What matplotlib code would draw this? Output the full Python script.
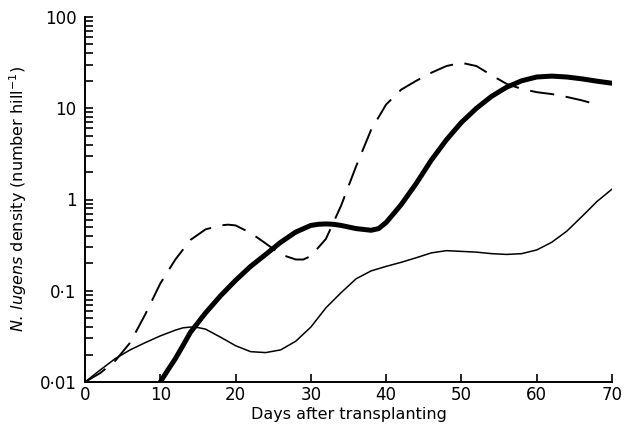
import matplotlib
matplotlib.use("Agg")
import matplotlib.pyplot as plt
from matplotlib.ticker import LogLocator, FixedLocator, FixedFormatter, NullFormatter

# Thin solid curve
thin_days = [0, 2, 4, 6, 8, 10, 12, 13, 14, 15, 16, 18, 20, 22, 24, 26, 28, 30, 32, 34, 36, 38,
             40, 42, 44, 46, 48, 50, 52, 54, 56, 58, 60, 62, 64, 66, 68, 70]
thin_vals = [0.010, 0.0135, 0.018, 0.0225, 0.027, 0.032, 0.037, 0.0392, 0.040, 0.0395, 0.038, 0.031,
             0.025, 0.0215, 0.021, 0.0225, 0.028, 0.040, 0.065, 0.095, 0.135, 0.165,
             0.185, 0.205, 0.23, 0.26, 0.275, 0.27, 0.265, 0.255, 0.25, 0.255,
             0.28, 0.34, 0.45, 0.65, 0.95, 1.3]

# Thick solid curve
thick_days = [10, 11, 12, 13, 14, 16, 18, 20, 22, 24, 26, 28, 30, 31, 32, 33, 34, 36, 38, 39, 40,
              41, 42, 44, 46, 48, 50, 52, 54, 56, 58, 60, 62, 64, 66, 68, 70]
thick_vals = [0.010, 0.0135, 0.018, 0.025, 0.035, 0.057, 0.088, 0.13, 0.185, 0.25, 0.34,
              0.44, 0.52, 0.535, 0.54, 0.535, 0.52, 0.48, 0.46, 0.48, 0.56, 0.70, 0.88, 1.5, 2.7, 4.5,
              7.0, 10.0, 13.5, 17.0, 20.0, 22.0, 22.5, 22.0, 21.0, 19.8, 18.8]

# Dashed curve
dash_days = [0, 2, 4, 6, 8, 10, 12, 14, 16, 18, 19, 20, 22, 24, 26, 28, 29, 30, 32, 34, 36, 38,
             40, 42, 44, 46, 48, 50, 52, 54, 56, 58, 60, 62, 64, 66, 68]
dash_vals = [0.010, 0.0125, 0.017, 0.027, 0.055, 0.12, 0.22, 0.36, 0.47, 0.52, 0.53, 0.52,
             0.43, 0.33, 0.25, 0.22, 0.22, 0.24, 0.37, 0.85, 2.3, 5.8, 11.0, 16.0, 20.0, 24.5,
             29.0, 31.5, 29.0, 23.0, 18.5, 16.3, 15.0, 14.3, 13.3, 12.2, 11.0]

x_ticks = [0, 10, 20, 30, 40, 50, 60, 70]
y_ticks = [0.01, 0.1, 1, 10, 100]
y_tick_labels = ["0·01", "0·1", "1", "10", "100"]

fig = plt.figure(figsize=(6.28, 4.38), dpi=100)
ax = fig.add_axes([85 / 628, 56 / 438, 527 / 628, 365 / 438])

ax.plot(thin_days, thin_vals, color="black", lw=1.1, solid_capstyle="round", solid_joinstyle="round")
ax.plot(thick_days, thick_vals, color="black", lw=3.6, solid_capstyle="round", solid_joinstyle="round")
ln, = ax.plot(dash_days, dash_vals, color="black", lw=1.4)
ln.set_dashes((12.5, 6))

ax.set_yscale("log")
ax.set_xlim(0, 70)
ax.set_ylim(0.01, 100)

ax.xaxis.set_major_locator(FixedLocator(x_ticks))
ax.yaxis.set_major_locator(FixedLocator(y_ticks))
ax.yaxis.set_major_formatter(FixedFormatter(y_tick_labels))
ax.yaxis.set_minor_locator(LogLocator(base=10, subs=range(2, 10)))
ax.yaxis.set_minor_formatter(NullFormatter())

for s in ["top", "right"]:
    ax.spines[s].set_visible(False)
for s in ["left", "bottom"]:
    ax.spines[s].set_linewidth(1.4)

ax.tick_params(axis="x", direction="in", length=6, width=1.2, labelsize=12, pad=3)
ax.tick_params(axis="y", which="major", direction="in", length=6, width=1.2, labelsize=12, pad=6)
ax.tick_params(axis="y", which="minor", direction="in", length=6, width=1.2)

ax.set_xlabel("Days after transplanting", fontsize=11.5, labelpad=2)
ax.set_ylabel(r"$\mathit{N.}\,\mathit{lugens}$ density (number hill$^{-1}$)", fontsize=11.5, labelpad=8)

fig.savefig("out.png", dpi=100)
